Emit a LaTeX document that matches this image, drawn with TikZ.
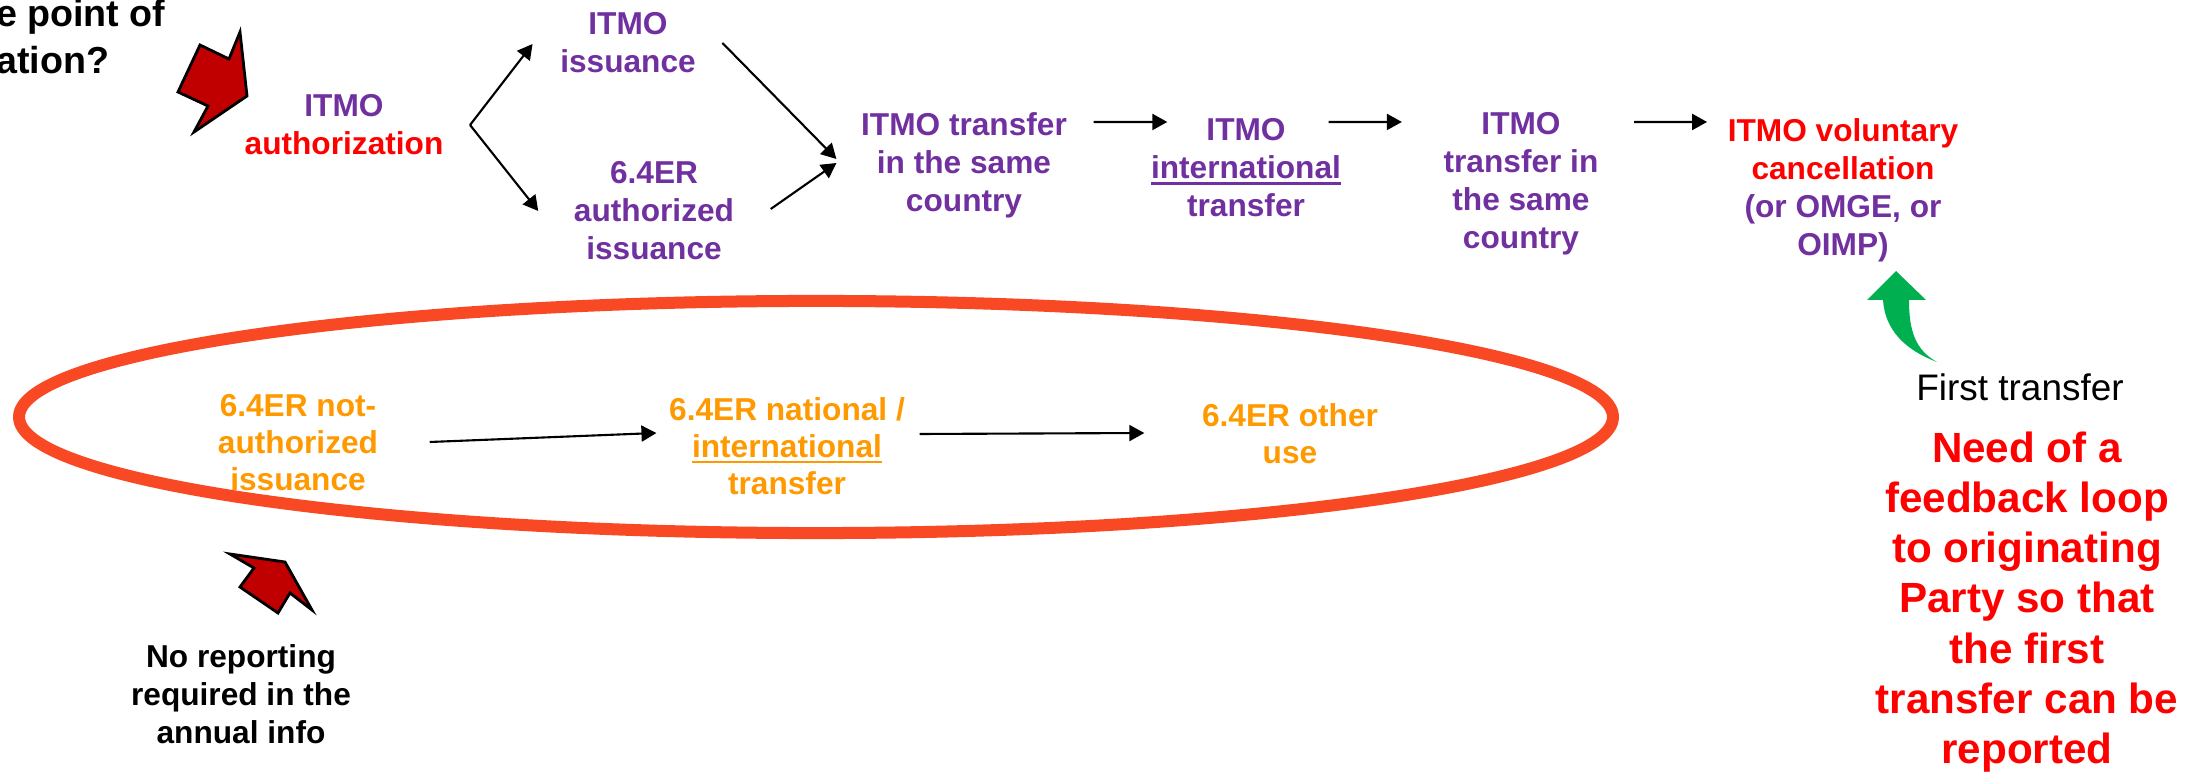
\documentclass[tikz,border=0pt]{standalone}
\usepackage{fontspec}
\setmainfont{Liberation Sans}
\usetikzlibrary{positioning,arrows.meta}
\definecolor{itmopurple}{RGB}{112,48,160}
\definecolor{itmored}{RGB}{255,0,0}
\definecolor{erorange}{RGB}{255,153,0}
\definecolor{ringred}{RGB}{248,73,36}
\definecolor{blockred}{RGB}{192,0,0}
\definecolor{okgreen}{RGB}{0,176,80}
\newcommand{\thickul}[1]{\setbox0=\hbox{#1}\rlap{\rule[-1.7pt]{\wd0}{0.75pt}}\box0}

\begin{document}
\begin{tikzpicture}[x=0.01cm, y=-0.01cm,
    flownode/.style={align=center, inner sep=0pt, font=\fontsize{9}{10.8}\selectfont\bfseries, text=itmopurple},
    ernode/.style={flownode, text=erorange, font=\fontsize{9}{10.5}\selectfont\bfseries},
    notenode/.style={flownode, text=black},
    flowarrow/.style={-{Triangle[length=0.15cm, width=0.16cm]}, line width=0.6pt},
    blockarrow/.style={draw=black, line width=0.8pt, fill=blockred, line join=miter}
    ]
    \useasboundingbox (0,0) rectangle (2208,773);

    %Question
    \node[notenode, font=\fontsize{10.7}{13.3}\selectfont\bfseries, anchor=base east] (question_top)    at (166,27) {e point of};
    \node[notenode, font=\fontsize{10.7}{13.3}\selectfont\bfseries, anchor=base east] (question_bottom) at (110,74) {ation?};

    %ITMO nodes
    \node[flownode]         (authorization)     at (344,125)  {ITMO\\\textcolor{itmored}{authorization}};
    \coordinate[right=0.26cm of authorization] (fork);
    \node[flownode]         (itmo_issuance)     at (628,43)   {ITMO\\issuance};
    \node[flownode]         (er_authorized)     at (654,211)  {6.4ER\\authorized\\issuance};
    \node[flownode]         (transfer_first)    at (964,165)  {ITMO transfer\\in the same\\country};
    \node[flownode]         (international)     at (1246,168) {ITMO\\\thickul{international}\\transfer};
    \node[flownode]         (transfer_second)   at (1521,184) {ITMO\\transfer in\\the same\\country};
    \node[flownode, text=itmored] (cancellation) at (1843,190) {ITMO voluntary\\cancellation\\\textcolor{itmopurple}{(or OMGE, or}\\\textcolor{itmopurple}{OIMP)}};

    %6.4ER nodes
    \node[ernode]           (not_authorized)    at (298,443)  {6.4ER not-\\authorized\\issuance};
    \node[ernode]           (national)          at (787,446)  {6.4ER national /\\\thickul{international}\\transfer};
    \node[ernode]           (other_use)         at (1290,434) {6.4ER other\\use};

    %Notes
    \node[notenode]         (no_reporting)      at (241,694)  {No reporting\\required in the\\annual info};
    \node[notenode, font=\fontsize{10.5}{12.6}\selectfont] (first_transfer) at (2020,387) {First transfer};
    \node[flownode, text=itmored, font=\fontsize{12}{14.3}\selectfont\bfseries] (feedback) at (2027,602)
        {Need of a\\feedback loop\\to originating\\Party so that\\the first\\transfer can be\\reported};

    %Ring
    \draw[ringred, line width=0.12cm] (816,417) ellipse [x radius=7.965cm, y radius=1.16cm];

    %Block arrows
    \draw[blockarrow] (200,45) -- (229,59) -- (240,32) -- (247,96) -- (194,132) -- (208,106) -- (178,92) -- cycle;
    \draw[blockarrow] (230,554) -- (285,562) -- (312,610) -- (290,593) -- (278,613) -- (240,587) -- (254,568) -- cycle;
    \fill[okgreen] (1896,271) -- (1926,300) -- (1909,300) .. controls (1909,330) and (1915,350) .. (1937,362)
        .. controls (1905,350) and (1885,330) .. (1883,300) -- (1867,300) -- cycle;

    %Lines
    \draw[flowarrow] (fork) -- ([xshift=-0.27cm, yshift=-0.01cm]itmo_issuance.west);
    \draw[flowarrow] (fork) -- ([xshift=-0.35cm]er_authorized.west);

    \draw[flowarrow] ([xshift=0.26cm]itmo_issuance.east) -- ([xshift=-0.24cm, yshift=0.06cm]transfer_first.west);
    \draw[flowarrow] ([xshift=0.36cm, yshift=0.02cm]er_authorized.east) -- ([xshift=-0.24cm, yshift=0.02cm]transfer_first.west);

    \draw[flowarrow] ([xshift=0.26cm, yshift=0.43cm]transfer_first.east) -- ([xshift=0.17cm, yshift=0.46cm]international.west);
    \draw[flowarrow] ([xshift=-0.13cm, yshift=0.46cm]international.east) -- ([xshift=-0.41cm, yshift=0.62cm]transfer_second.west);
    \draw[flowarrow] ([xshift=0.35cm, yshift=0.62cm]transfer_second.east) -- ([xshift=-0.20cm, yshift=0.68cm]cancellation.west);

    \draw[flowarrow] ([xshift=0.51cm, yshift=0.01cm]not_authorized.east) -- ([xshift=-0.12cm, yshift=0.13cm]national.west);
    \draw[flowarrow] ([xshift=0.14cm, yshift=0.12cm]national.east) -- ([xshift=-0.57cm, yshift=0.01cm]other_use.west);

\end{tikzpicture}
\end{document}
